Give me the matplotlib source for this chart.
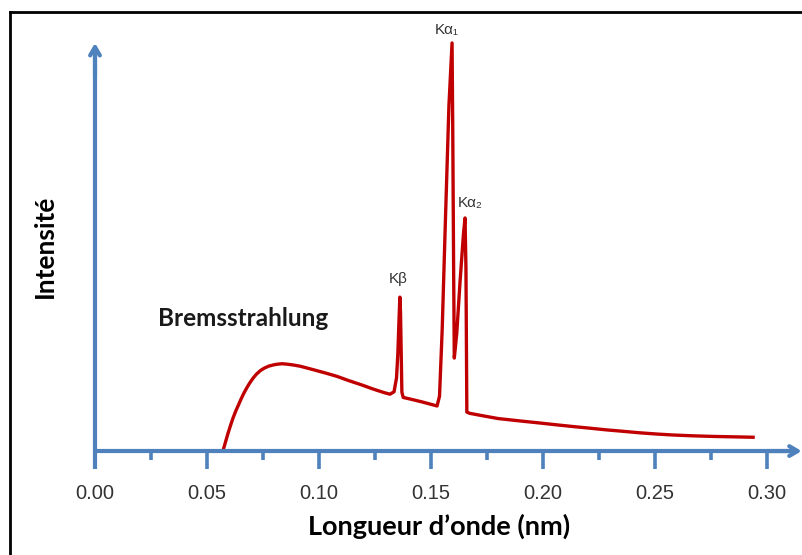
import matplotlib.pyplot as plt
from matplotlib.ticker import FixedLocator

# Spectre des rayons X
longueur_onde = [0.0571, 0.0583, 0.0594, 0.0605, 0.0616, 0.0628, 0.0640, 0.0652,
                 0.0665, 0.0678, 0.0690, 0.0705, 0.0720, 0.0738, 0.0755, 0.0775,
                 0.0795, 0.0815, 0.0835, 0.0857, 0.0885, 0.0915, 0.0950, 0.0990,
                 0.1030, 0.1080, 0.1135, 0.1190, 0.1240, 0.1290, 0.1317, 0.1335,
                 0.1346, 0.1352, 0.1357, 0.1361, 0.1364, 0.1367, 0.1370, 0.1376,
                 0.1400, 0.1460, 0.1527, 0.1538, 0.1550, 0.1565, 0.1580, 0.1594,
                 0.1597, 0.1601, 0.1604, 0.1615, 0.1630, 0.1645, 0.1652, 0.1656,
                 0.1660, 0.1672, 0.1720, 0.1800, 0.1900, 0.1987, 0.2070, 0.2140,
                 0.2215, 0.2286, 0.2360, 0.2430, 0.2505, 0.2580, 0.2670, 0.2760,
                 0.2850, 0.2938]
intensite = [0.0, 2.3, 4.4, 6.3, 8.1, 9.8, 11.3, 12.8,
             14.3, 15.6, 16.7, 17.9, 18.9, 19.8, 20.4, 20.9,
             21.2, 21.4, 21.5, 21.4, 21.2, 20.9, 20.4, 19.8,
             19.2, 18.4, 17.3, 16.3, 15.3, 14.4, 14.0, 14.6,
             18.0, 24.0, 32.0, 37.9, 34.0, 24.0, 14.5, 13.2,
             12.9, 12.1, 11.1, 13.5, 30.0, 58.0, 85.0, 100.5,
             80.0, 45.0, 22.9, 29.0, 42.0, 53.5, 57.4, 45.0,
             9.6, 9.3, 8.8, 8.0, 7.4, 6.9, 6.4, 6.0,
             5.6, 5.2, 4.85, 4.5, 4.2, 3.95, 3.75, 3.6,
             3.5, 3.4]

ticks_x = [0.00, 0.05, 0.10, 0.15, 0.20, 0.25, 0.30]
etiquettes_x = ['0.00', '0.05', '0.10', '0.15', '0.20', '0.25', '0.30']
ticks_mineurs = [0.025, 0.075, 0.125, 0.175, 0.225, 0.275]

bleu = '#4f81bd'
rouge = '#c00000'

fig = plt.figure(figsize=(8.03, 5.55), dpi=100)
ax = fig.add_axes([0, 0, 1, 1])
ax.set_xlim(-0.04241, 0.31607)
ax.set_ylim(-25.6, 111.08)

# axes en "fleches" bleues
for s in ['top', 'right']:
    ax.spines[s].set_visible(False)
ax.spines['bottom'].set_position(('data', 0))
ax.spines['left'].set_position(('data', 0))
ax.spines['bottom'].set_bounds(0, 0.313)
ax.spines['left'].set_bounds(-4.5, 99)
for s in ['bottom', 'left']:
    ax.spines[s].set_color(bleu)
    ax.spines[s].set_linewidth(3)
    ax.spines[s].set_capstyle('butt')

ax.annotate('', xy=(0.3155, 0), xytext=(0.300, 0),
            arrowprops=dict(arrowstyle='->,head_length=0.6,head_width=0.35',
                            color=bleu, lw=3, shrinkA=0, shrinkB=0))
ax.annotate('', xy=(0, 100.5), xytext=(0, 92),
            arrowprops=dict(arrowstyle='->,head_length=0.6,head_width=0.35',
                            color=bleu, lw=3, shrinkA=0, shrinkB=0))

ax.set_xticks(ticks_x)
ax.set_xticklabels(etiquettes_x, family='Liberation Sans', fontsize=14.5, color='#333333')
ax.xaxis.set_minor_locator(FixedLocator(ticks_mineurs))
ax.tick_params(axis='x', which='major', direction='out', length=13, width=2.6,
               color=bleu, pad=11)
ax.tick_params(axis='x', which='minor', direction='out', length=6.5, width=2.6,
               color=bleu)
ax.set_yticks([])

# courbe
ax.plot(longueur_onde, intensite, color=rouge, lw=2.4, solid_joinstyle='round')

# textes
fonte = ['Lato', 'DejaVu Sans']
ax.text(0.0661, 32.7, 'Bremsstrahlung', family=fonte, weight='bold', fontsize=17.5,
        color='#1a1a1a', ha='center', va='center')
ax.text(-0.0223, 50.5, 'Intensité', family=fonte, weight='bold', fontsize=19,
        color='black', ha='center', va='center', rotation=90)
ax.text(0.1536, -18.5, 'Longueur d\u2019onde (nm)', family=fonte, weight='bold',
        fontsize=19.5, color='black', ha='center', va='center')

petite = ['Liberation Sans', 'DejaVu Sans']
ax.text(0.1355, 42.4, 'Kβ', family=petite, fontsize=11, color='#333333',
        ha='center', va='center')
ax.text(0.1571, 103.6, 'Kα\u2081', family=petite, fontsize=11, color='#333333',
        ha='center', va='center')
ax.text(0.1674, 61.1, 'Kα\u2082', family=petite, fontsize=11, color='#333333',
        ha='center', va='center')

# cadre noir
ax.plot([-0.0381, -0.0381], [-25.6, 108.1], color='black', lw=2, clip_on=False)
ax.plot([-0.0381, 0.3161], [108.1, 108.1], color='black', lw=2, clip_on=False)

ax.set_facecolor('white')
fig.savefig('out.png', dpi=100)
